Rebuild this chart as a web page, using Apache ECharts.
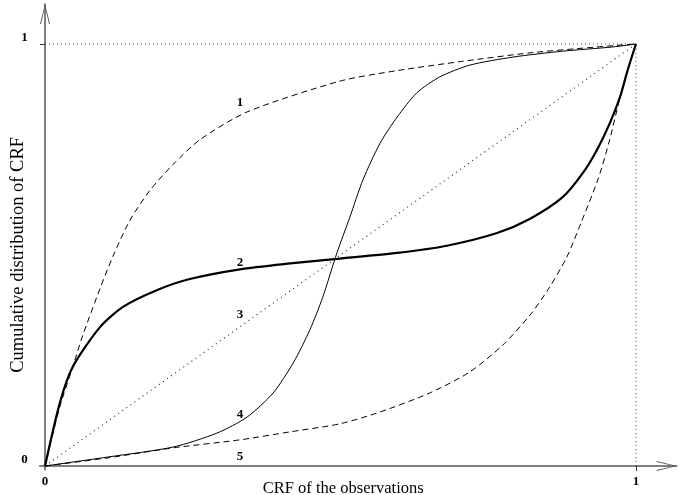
<!DOCTYPE html>
<html>
<head>
<meta charset="utf-8">
<script src="https://cdn.jsdelivr.net/npm/echarts@6/dist/echarts.min.js"></script>
<style>html,body{margin:0;padding:0;background:#fff}#c{width:691px;height:495px}</style>
</head>
<body>
<div id="c"></div>
<script>
// Curve values: [CRF of observations, cumulative distribution]
var curve1 = [[0,0],[0.025,0.14],[0.047,0.235],[0.064,0.31],[0.093,0.42],[0.115,0.497],[0.144,0.583],[0.178,0.654],[0.217,0.715],[0.262,0.773],[0.342,0.839],[0.499,0.912],[0.596,0.937],[0.707,0.959],[0.821,0.979],[0.934,0.993],[1,1]];
var curve2 = [[0,0],[0.025,0.149],[0.047,0.235],[0.093,0.329],[0.132,0.377],[0.19,0.417],[0.245,0.443],[0.33,0.466],[0.415,0.48],[0.494,0.491],[0.596,0.505],[0.68,0.522],[0.765,0.552],[0.821,0.586],[0.876,0.637],[0.91,0.694],[0.934,0.749],[0.956,0.813],[0.973,0.874],[0.986,0.938],[1,1]];
var curve3 = [[0,0],[1,1]];
var curve4 = [[0,0],[0.105,0.021],[0.217,0.045],[0.291,0.078],[0.342,0.116],[0.386,0.173],[0.42,0.244],[0.448,0.322],[0.47,0.4],[0.494,0.505],[0.516,0.59],[0.538,0.678],[0.567,0.765],[0.596,0.827],[0.629,0.884],[0.668,0.922],[0.719,0.95],[0.792,0.969],[0.876,0.983],[0.961,0.993],[1,1]];
var curve5 = [[0,0],[0.105,0.019],[0.217,0.043],[0.33,0.062],[0.415,0.081],[0.499,0.1],[0.567,0.128],[0.651,0.173],[0.719,0.223],[0.775,0.287],[0.821,0.358],[0.854,0.424],[0.883,0.495],[0.907,0.576],[0.936,0.68],[0.955,0.77],[0.972,0.867],[0.986,0.938],[1,1]];
var guideLines = [[0,1],[1,1],[1,0]];
var curveNames = ['1','2','3','4','5'];
var curveLabelPos = [[0.33,0.86],[0.33,0.483],[0.33,0.358],[0.33,0.121],[0.33,0.021]];
var tickLabels = [0,1];
var tickMarks = [1];
var xName = 'CRF of the observations';
var yName = 'Cumulative distribution of CRF';

var serif = 'Liberation Serif, Times New Roman, serif';
var arrow = 'path://M5,0 L10,20 L9,20 L5,3 L1,20 L0,20 Z';

function lineSeries(data, width, type) {
  return {
    type: 'line', data: data, showSymbol: false, smooth: 0.25, silent: true,
    lineStyle: {color: '#000', width: width, type: type}, z: 3
  };
}

var chart = echarts.init(document.getElementById('c'), null, {renderer: 'canvas'});
chart.setOption({
  animation: false,
  grid: {left: 39.7, right: 14.3, top: 3.9, bottom: 25.2, containLabel: false, outerBoundsMode: 'none'},
  xAxis: {
    type: 'value', min: -0.009, max: 1.069,
    name: xName, nameLocation: 'middle', nameGap: 10, nameMoveOverlap: false,
    nameTextStyle: {fontFamily: serif, fontSize: 16.5, color: '#000', padding: [0, 30, 0, 0]},
    axisLine: {onZero: true, lineStyle: {color: '#555', width: 1.5}, symbol: ['none', arrow], symbolSize: [10, 20], symbolOffset: [0, -10]},
    axisTick: {show: true, customValues: tickMarks, length: 5, inside: false, lineStyle: {color: '#333'}},
    axisLabel: {customValues: tickLabels, fontFamily: serif, fontWeight: 'bold', fontSize: 13, color: '#000', margin: 5},
    splitLine: {show: false}
  },
  yAxis: {
    type: 'value', min: -0.009, max: 1.095,
    name: yName, nameLocation: 'middle', nameGap: 12, nameMoveOverlap: false,
    nameTextStyle: {fontFamily: serif, fontSize: 18.5, color: '#000', padding: [0, 36, 0, 0]},
    axisLine: {onZero: true, lineStyle: {color: '#555', width: 1.5}, symbol: ['none', arrow], symbolSize: [10, 20], symbolOffset: [0, -10]},
    axisTick: {show: true, customValues: tickMarks, length: 5, inside: false, lineStyle: {color: '#333'}},
    axisLabel: {customValues: tickLabels, fontFamily: serif, fontWeight: 'bold', fontSize: 13, color: '#000', margin: 12, verticalAlign: 'bottom', lineHeight: 13},
    splitLine: {show: false}
  },
  series: [
    {type: 'line', data: guideLines, showSymbol: false, silent: true, lineStyle: {color: '#444', width: 1, type: [1, 3]}, z: 2},
    lineSeries(curve1, 1, [6, 4]),
    lineSeries(curve2, 2.2, 'solid'),
    {type: 'line', data: curve3, showSymbol: false, silent: true, lineStyle: {color: '#333', width: 1.2, type: [1, 4]}, z: 3},
    lineSeries(curve4, 1, 'solid'),
    lineSeries(curve5, 1, [6, 4]),
    {
      type: 'scatter', symbolSize: 0, silent: true, z: 5,
      data: curveLabelPos.map(function (p, i) { return {name: curveNames[i], value: p}; }),
      label: {show: true, position: 'inside', formatter: '{b}', fontFamily: serif, fontWeight: 'bold', fontSize: 13, color: '#000', textBorderWidth: 0, textShadowBlur: 0, opacity: 1}
    }
  ]
});
</script>
</body>
</html>
